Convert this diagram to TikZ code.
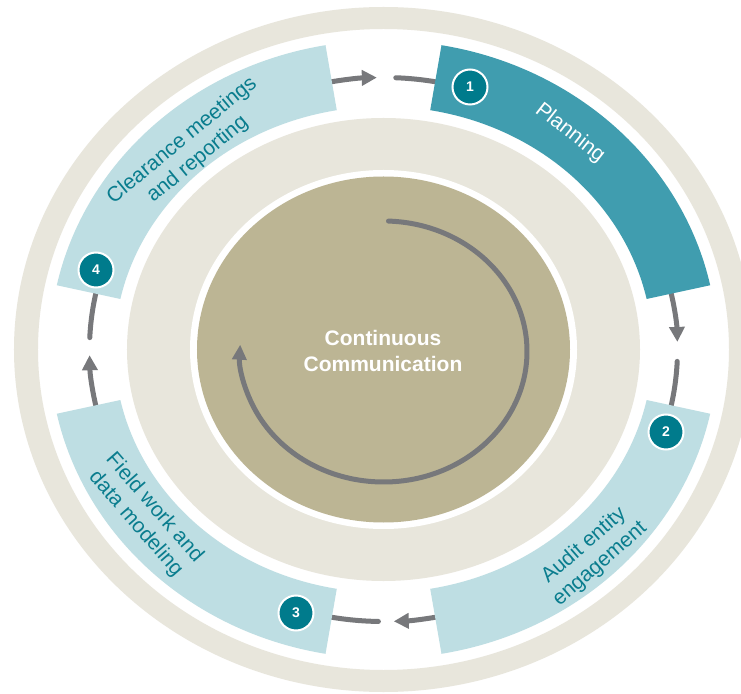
\documentclass[tikz,border=0pt]{standalone}
\usepackage{fontspec}
\setmainfont{Liberation Sans}
\usetikzlibrary{arrows.meta}
\definecolor{ringbeige}{HTML}{E8E6DC}
\definecolor{tancore}{HTML}{BCB594}
\definecolor{plancol}{HTML}{409DAF}
\definecolor{lightseg}{HTML}{BEDEE3}
\definecolor{numteal}{HTML}{007B8C}
\definecolor{txtteal}{HTML}{0A7D8E}
\definecolor{arrowgray}{HTML}{77787B}
\newcommand{\mysegment}[3]{%
  \fill[#3] (#1:334 and 309) arc[start angle=#1, end angle=#2, x radius=334, y radius=309]
    -- (#2:269 and 243) arc[start angle=#2, end angle=#1, x radius=269, y radius=243] -- cycle;}
\begin{document}
\begin{tikzpicture}[x=1pt,y=1pt,
  seglabel/.style={text=txtteal, font=\fontsize{21}{24.5}\selectfont, align=center, inner sep=0pt},
  numcirc/.style={circle, fill=numteal, draw=white, line width=2pt, minimum size=35pt, inner sep=0pt, text=white, font=\fontsize{14}{14}\selectfont\bfseries},
  flow/.style={draw=arrowgray, line width=5pt, line cap=round},
  flowarrow/.style={flow, -{Triangle[width=15pt,length=15pt]}},
  innerarrow/.style={flow, -{Triangle[width=14pt,length=15pt]}}]
\fill[white] (-383.5,-343.5) rectangle (357.5,349.5);
\useasboundingbox (-383.5,-343.5) rectangle (357.5,349.5);
% outer ring
\fill[ringbeige, even odd rule] (0,0) ellipse [x radius=369.5, y radius=342.5]
  (0,0) ellipse [x radius=345.5, y radius=320.5];
% inner ring and core
\fill[ringbeige] (0,0) ellipse [x radius=256.5, y radius=231.5];
\fill[white] (0,0) ellipse [x radius=193.5, y radius=179.5];
\fill[tancore] (0,0) ellipse [x radius=186.5, y radius=173];
% flow connectors between segments
\coordinate (s4end) at (102:294 and 272);
\draw[flowarrow] (s4end) arc[start angle=102, end angle=91.3, x radius=294, y radius=272];
\draw[flow] (87.6:294 and 272) arc[start angle=87.6, end angle=78, x radius=294, y radius=272];
\coordinate (s1end) at (14:294 and 272);
\draw[flowarrow] (s1end) arc[start angle=14, end angle=1.6, x radius=294, y radius=272];
\draw[flow] (-2.5:294 and 272) arc[start angle=-2.5, end angle=-14, x radius=294, y radius=272];
\coordinate (s2end) at (-78:294 and 272);
\draw[flowarrow] (s2end) arc[start angle=-78, end angle=-88, x radius=294, y radius=272];
\draw[flow] (-91:294 and 272) arc[start angle=-91, end angle=-102, x radius=294, y radius=272];
\coordinate (s3end) at (-166:294 and 272);
\draw[flowarrow] (s3end) arc[start angle=-166, end angle=-178.8, x radius=294, y radius=272];
\draw[flow] (-182.5:294 and 272) arc[start angle=-182.5, end angle=-194, x radius=294, y radius=272];
% segments
\mysegment{12}{80}{plancol}
\mysegment{-80}{-12}{lightseg}
\mysegment{-168}{-100}{lightseg}
\mysegment{100}{168}{lightseg}
% inner circular arrow
\draw[innerarrow] (0,-2) ++(88:143.5 and 130.5) arc[start angle=88, end angle=-183, x radius=143.5, y radius=130.5];
% labels
\node[text=white, font=\fontsize{21}{26.5}\selectfont\bfseries, align=center, inner sep=0pt] (cc) at (-0.5,-1.5) {Continuous\\Communication};
\node[seglabel, text=white, rotate=-38] (t1) at (186.5,216.5) {Planning};
\node[seglabel, rotate=41] (t2) at (208.5,-205.5) {Audit entity\\engagement};
\node[seglabel, rotate=-49] (t3) at (-238.5,-166.5) {Field work and\\data modeling};
\node[seglabel, rotate=39.5] (t4) at (-193.5,199.5) {Clearance meetings\\and reporting};
% number badges
\node[numcirc] (n1) at (86.5,262.5) {1};
\node[numcirc] (n2) at (282.5,-82.5) {2};
\node[numcirc] (n3) at (-87.5,-263.5) {3};
\node[numcirc] (n4) at (-287.5,79.5) {4};
\end{tikzpicture}
\end{document}
